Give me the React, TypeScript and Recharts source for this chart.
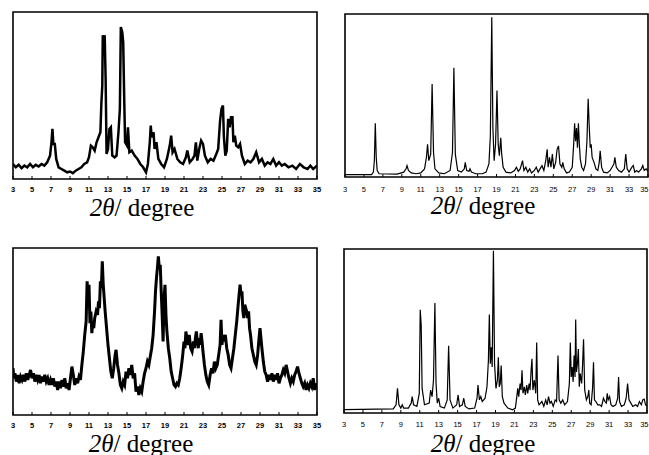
import { LineChart, Line, XAxis, YAxis, ReferenceArea } from "recharts";

// 2-theta tick labels shared by all four patterns
const angleTicks = [3, 5, 7, 9, 11, 13, 15, 17, 19, 21, 23, 25, 27, 29, 31, 33, 35];

// [2θ, relative intensity 0..100]
const patternA: [number, number][] = [
  [3.0, 9], [3.3, 7], [3.6, 8.5], [3.9, 6.5], [4.2, 8], [4.5, 7], [4.8, 9], [5.1, 7], [5.4, 8.5],
  [5.7, 7.5], [6.0, 9], [6.3, 8], [6.6, 10], [6.9, 14], [7.05, 22], [7.15, 30], [7.25, 21], [7.4, 21],
  [7.55, 12], [7.8, 7], [8.1, 6], [8.4, 5], [8.7, 4], [9.0, 4.5], [9.3, 3.5], [9.6, 5], [9.9, 6],
  [10.2, 7], [10.5, 9], [10.8, 10], [11.0, 13], [11.2, 20], [11.4, 19], [11.6, 17], [11.8, 22],
  [12.0, 25], [12.2, 28], [12.3, 45], [12.4, 56], [12.45, 86], [12.55, 84], [12.65, 86], [12.75, 60],
  [12.85, 15], [13.0, 18], [13.15, 30], [13.3, 31], [13.45, 14], [13.7, 13], [13.9, 14], [14.1, 28],
  [14.25, 42], [14.35, 91], [14.5, 88], [14.6, 82], [14.7, 50], [14.8, 22], [15.0, 20], [15.1, 31],
  [15.25, 16], [15.5, 17], [15.8, 14], [16.1, 12], [16.4, 9], [16.7, 7], [17.0, 4], [17.2, 9],
  [17.4, 22], [17.5, 32], [17.6, 25], [17.8, 28], [17.9, 18], [18.1, 22], [18.3, 12], [18.6, 9],
  [18.9, 7], [19.2, 12], [19.5, 20], [19.65, 26], [19.8, 16], [20.0, 18], [20.3, 12], [20.6, 10],
  [20.9, 9], [21.2, 13], [21.35, 17], [21.6, 10], [21.9, 12], [22.1, 14], [22.25, 22], [22.4, 11],
  [22.6, 18], [22.8, 23], [23.0, 21], [23.2, 14], [23.5, 10], [23.8, 12], [24.1, 11], [24.4, 15],
  [24.6, 18], [24.8, 35], [24.95, 42], [25.1, 44], [25.2, 25], [25.35, 14], [25.5, 17], [25.65, 36],
  [25.8, 31], [25.95, 37], [26.1, 37], [26.2, 22], [26.35, 26], [26.5, 20], [26.7, 19], [26.9, 21],
  [27.1, 14], [27.4, 9], [27.7, 11], [28.0, 10], [28.3, 12], [28.6, 16], [28.9, 10], [29.2, 12],
  [29.5, 8], [29.8, 10], [30.1, 9], [30.4, 12], [30.7, 8], [31.0, 10], [31.3, 8], [31.6, 9], [32.0, 7],
  [32.4, 8], [32.8, 6], [33.2, 9], [33.6, 7], [34.0, 6], [34.3, 8], [34.6, 6], [35.0, 8],
];

const patternB: [number, number][] = [
  [3.0, 1.5], [5.8, 1.5], [6.0, 3], [6.1, 10], [6.2, 33], [6.3, 12], [6.4, 4], [6.6, 2], [8.5, 1.8],
  [9.2, 3], [9.45, 5], [9.55, 7], [9.7, 4], [10.0, 2.5], [10.5, 2], [11.0, 2.5], [11.4, 5], [11.6, 12],
  [11.72, 20], [11.85, 10], [12.05, 14], [12.2, 57], [12.35, 15], [12.5, 5], [12.9, 2.5], [13.5, 2],
  [14.1, 4], [14.35, 15], [14.5, 67], [14.65, 14], [14.9, 4], [15.3, 3], [15.6, 5], [15.7, 9],
  [15.85, 4], [16.1, 3.5], [16.2, 5], [16.35, 3], [16.8, 2], [17.5, 2], [17.9, 3], [18.2, 8],
  [18.35, 25], [18.5, 98], [18.62, 30], [18.75, 10], [18.9, 20], [19.05, 53], [19.18, 20], [19.3, 13],
  [19.45, 24], [19.55, 14], [19.7, 6], [20.0, 3], [20.5, 2.5], [20.9, 4], [21.1, 6], [21.3, 3.5],
  [21.5, 5], [21.75, 10], [21.9, 4], [22.1, 6], [22.3, 3], [22.5, 5], [22.7, 2.5], [23.0, 4], [23.2, 6],
  [23.4, 3], [23.6, 5], [23.8, 7], [24.0, 4], [24.2, 10], [24.35, 17], [24.45, 6], [24.6, 12],
  [24.75, 6], [24.9, 14], [25.05, 5], [25.25, 9], [25.4, 17], [25.55, 19], [25.7, 8], [25.9, 6],
  [26.0, 9], [26.15, 5], [26.4, 2.5], [26.7, 3], [27.0, 6], [27.15, 20], [27.25, 33], [27.35, 22],
  [27.45, 30], [27.55, 18], [27.65, 33], [27.75, 20], [27.85, 11], [28.0, 6], [28.2, 4], [28.4, 8],
  [28.55, 22], [28.68, 48], [28.8, 30], [28.9, 18], [29.0, 20], [29.1, 12], [29.3, 9], [29.5, 5],
  [29.7, 4], [29.85, 9], [29.95, 16], [30.1, 6], [30.3, 3], [30.7, 2.5], [31.0, 4], [31.2, 6],
  [31.4, 8], [31.5, 12], [31.65, 6], [31.9, 4], [32.2, 3], [32.5, 5], [32.65, 14], [32.8, 5],
  [33.0, 3], [33.3, 6], [33.45, 7], [33.6, 3], [33.8, 4], [34.0, 3], [34.3, 5], [34.45, 7], [34.6, 4],
  [34.8, 5], [35.0, 3.5],
];

const patternC: [number, number][] = [
  [3.0, 28], [3.1, 22], [3.2, 25], [3.35, 20], [3.5, 24], [3.65, 19], [3.8, 23], [3.95, 21], [4.1, 24],
  [4.25, 20], [4.4, 25], [4.55, 21], [4.7, 24], [4.85, 27], [5.0, 22], [5.15, 25], [5.3, 20],
  [5.45, 24], [5.6, 21], [5.75, 24], [5.9, 19], [6.05, 23], [6.2, 20], [6.35, 24], [6.5, 20],
  [6.65, 22], [6.8, 18], [6.95, 21], [7.1, 18], [7.25, 22], [7.4, 17], [7.55, 20], [7.7, 15],
  [7.85, 20], [8.0, 16], [8.15, 21], [8.3, 17], [8.45, 22], [8.6, 16], [8.75, 19], [8.9, 15],
  [9.05, 22], [9.2, 29], [9.35, 24], [9.5, 18], [9.65, 22], [9.8, 19], [9.95, 23], [10.1, 21],
  [10.25, 30], [10.4, 38], [10.55, 48], [10.7, 56], [10.8, 80], [10.9, 72], [11.0, 78], [11.1, 55],
  [11.2, 62], [11.3, 49], [11.4, 55], [11.5, 52], [11.6, 58], [11.75, 62], [11.9, 60], [12.0, 68],
  [12.1, 64], [12.2, 80], [12.3, 76], [12.4, 92], [12.5, 78], [12.6, 70], [12.7, 62], [12.85, 52],
  [13.0, 42], [13.15, 34], [13.3, 26], [13.45, 22], [13.6, 28], [13.75, 36], [13.85, 39], [14.0, 30],
  [14.15, 25], [14.3, 18], [14.45, 16], [14.6, 20], [14.75, 18], [14.9, 26], [15.05, 22], [15.2, 28],
  [15.35, 24], [15.5, 30], [15.65, 22], [15.8, 25], [15.95, 14], [16.1, 17], [16.25, 12], [16.4, 16],
  [16.55, 14], [16.7, 20], [16.85, 25], [17.0, 28], [17.15, 32], [17.3, 30], [17.45, 35], [17.6, 40],
  [17.75, 48], [17.9, 62], [18.0, 74], [18.1, 82], [18.2, 88], [18.3, 95], [18.4, 88], [18.5, 90],
  [18.6, 74], [18.7, 60], [18.8, 44], [18.9, 70], [19.0, 78], [19.1, 60], [19.2, 50], [19.35, 40],
  [19.5, 34], [19.65, 26], [19.8, 22], [19.95, 18], [20.1, 17], [20.25, 19], [20.4, 18], [20.55, 22],
  [20.7, 28], [20.85, 35], [21.0, 44], [21.1, 40], [21.2, 50], [21.3, 46], [21.45, 42], [21.55, 48],
  [21.7, 40], [21.85, 38], [22.0, 44], [22.1, 40], [22.2, 46], [22.3, 50], [22.4, 44], [22.5, 40],
  [22.6, 46], [22.7, 42], [22.8, 49], [22.9, 44], [23.0, 38], [23.15, 30], [23.3, 24], [23.45, 20],
  [23.6, 18], [23.75, 24], [23.9, 28], [24.05, 25], [24.2, 32], [24.35, 28], [24.5, 30], [24.65, 36],
  [24.8, 42], [24.9, 57], [25.0, 42], [25.1, 48], [25.2, 44], [25.35, 48], [25.5, 40], [25.65, 36],
  [25.8, 30], [25.95, 28], [26.1, 34], [26.25, 40], [26.4, 48], [26.55, 56], [26.7, 66], [26.8, 72],
  [26.9, 78], [27.0, 72], [27.1, 74], [27.2, 62], [27.3, 58], [27.4, 66], [27.5, 64], [27.6, 62],
  [27.7, 58], [27.8, 62], [27.9, 52], [28.0, 48], [28.15, 40], [28.3, 36], [28.45, 32], [28.6, 30],
  [28.75, 36], [28.9, 46], [29.0, 52], [29.1, 46], [29.2, 40], [29.35, 32], [29.5, 26], [29.65, 24],
  [29.8, 20], [29.95, 24], [30.1, 21], [30.25, 25], [30.4, 20], [30.55, 24], [30.7, 21], [30.85, 25],
  [31.0, 19], [31.15, 22], [31.3, 24], [31.45, 27], [31.6, 25], [31.75, 30], [31.9, 26], [32.05, 22],
  [32.2, 19], [32.35, 22], [32.5, 20], [32.65, 24], [32.8, 26], [32.95, 29], [33.1, 25], [33.25, 22],
  [33.4, 19], [33.55, 17], [33.7, 19], [33.85, 15], [34.0, 18], [34.15, 16], [34.3, 19], [34.45, 17],
  [34.6, 22], [34.75, 15], [34.9, 19], [35.0, 16],
];

const patternD: [number, number][] = [
  [3.0, 2], [8.2, 2.5], [8.5, 5], [8.65, 15], [8.8, 5], [9.0, 3], [9.15, 5], [9.3, 3], [9.8, 3],
  [10.1, 6], [10.2, 10], [10.35, 5], [10.7, 4], [10.95, 12], [11.05, 63], [11.15, 54], [11.25, 15],
  [11.5, 5], [12.0, 6], [12.15, 14], [12.3, 10], [12.45, 20], [12.6, 67], [12.72, 18], [12.85, 6],
  [13.0, 9], [13.15, 4], [13.6, 3], [13.9, 8], [14.05, 41], [14.2, 8], [14.5, 3], [14.9, 5],
  [15.05, 11], [15.2, 4], [15.5, 5], [15.65, 9], [15.8, 4], [16.2, 2.5], [16.8, 3], [17.05, 9],
  [17.15, 17], [17.3, 8], [17.45, 10], [17.6, 7], [17.9, 9], [18.1, 16], [18.25, 32], [18.35, 60],
  [18.45, 30], [18.55, 40], [18.65, 28], [18.78, 99], [18.9, 30], [19.05, 15], [19.2, 20], [19.3, 34],
  [19.4, 16], [19.5, 18], [19.6, 29], [19.72, 10], [19.9, 6], [20.3, 3], [20.8, 2], [21.1, 3],
  [21.25, 10], [21.35, 15], [21.45, 10], [21.6, 18], [21.7, 14], [21.8, 26], [21.9, 12], [22.05, 16],
  [22.15, 11], [22.3, 17], [22.4, 12], [22.55, 18], [22.65, 14], [22.75, 25], [22.85, 33], [22.95, 14],
  [23.1, 20], [23.25, 12], [23.35, 43], [23.45, 8], [23.6, 5], [23.9, 7], [24.1, 4], [24.3, 8],
  [24.45, 5], [24.6, 10], [24.75, 6], [24.9, 7], [25.1, 4], [25.3, 8], [25.45, 7], [25.6, 35],
  [25.72, 8], [25.9, 6], [26.1, 8], [26.3, 5], [26.6, 7], [26.8, 18], [26.9, 43], [27.0, 22],
  [27.1, 28], [27.2, 19], [27.3, 35], [27.4, 22], [27.47, 57], [27.55, 25], [27.65, 30], [27.75, 39],
  [27.85, 16], [27.95, 24], [28.1, 18], [28.2, 30], [28.3, 45], [28.42, 14], [28.6, 8], [28.75, 10],
  [28.85, 14], [28.95, 6], [29.1, 5], [29.25, 15], [29.35, 31], [29.45, 8], [29.6, 7], [29.8, 5],
  [30.0, 5], [30.2, 4], [30.4, 9], [30.55, 7], [30.7, 6], [30.8, 12], [30.9, 8], [31.05, 10],
  [31.2, 5], [31.4, 4], [31.7, 5], [31.9, 9], [32.0, 22], [32.1, 7], [32.3, 4], [32.6, 5], [32.8, 9],
  [32.95, 18], [33.1, 8], [33.3, 6], [33.5, 4], [33.8, 5], [34.0, 4], [34.2, 7], [34.4, 5], [34.55, 8],
  [34.7, 8.5], [34.85, 5], [35.0, 4],
];

const CHART_HEIGHT = 225;

// tick label that slides left instead of running off the right edge of the page
const AngleTick = (props: any) => {
  const { x, y, payload, chartWidth, bold } = props;
  const label = String(payload.value);
  const half = label.length * 2.1;
  const clamp = x + half > chartWidth - 0.5;
  return (
    <text
      x={clamp ? chartWidth - 0.5 : x}
      y={y}
      dy="0.71em"
      textAnchor={clamp ? "end" : "middle"}
      fill="#000"
      fontSize={7.5}
      fontWeight={bold ? "bold" : "normal"}
      fontFamily="Liberation Sans, Arial, sans-serif"
    >
      {label}
    </text>
  );
};

interface PanelProps {
  data: [number, number][];
  left: number;
  top: number;
  width: number;
  plotTop: number;
  plotBottom: number;
  plotLeft: number;
  plotRight: number;
  labelTop: number;
  lineWidth: number;
  boldTicks?: boolean;
}

const Panel = ({ data, left, top, width, plotTop, plotBottom, plotLeft, plotRight, labelTop, lineWidth, boldTicks }: PanelProps) => {
  const rows = data.map(([angle, intensity]) => ({ angle, intensity }));
  const axisHeight = 20;
  const margin = {
    top: plotTop,
    left: plotLeft,
    right: width - plotRight,
    bottom: CHART_HEIGHT - plotBottom - axisHeight,
  };
  return (
    <div style={{ position: "absolute", left, top }}>
      <LineChart width={width} height={CHART_HEIGHT} data={rows} margin={margin}>
        <XAxis
          type="number"
          dataKey="angle"
          domain={[3, 35]}
          ticks={angleTicks}
          interval={0}
          allowDataOverflow
          axisLine={false}
          tickSize={-3}
          tickMargin={labelTop - plotBottom + 3}
          tickLine={{ stroke: "#000" }}
          height={axisHeight}
          tick={<AngleTick chartWidth={width} bold={boldTicks} />}
        />
        <YAxis hide domain={[0, 100]} allowDataOverflow />
        <ReferenceArea x1={3} x2={35} y1={0} y2={100} fill="none" stroke="#000" strokeWidth={1.6} />
        <Line
          type="linear"
          dataKey="intensity"
          stroke="#000"
          strokeWidth={lineWidth}
          dot={false}
          isAnimationActive={false}
        />
      </LineChart>
    </div>
  );
};

const Title = ({ cx, baseline }: { cx: number; baseline: number }) => (
  <div
    style={{
      position: "absolute",
      left: cx - 100,
      top: baseline - 22,
      width: 200,
      textAlign: "center",
      fontFamily: "Liberation Serif, Times New Roman, serif",
      fontSize: 25,
      lineHeight: "normal",
      color: "#000",
      whiteSpace: "nowrap",
    }}
  >
    <i>2θ</i>/ degree
  </div>
);

export default function App() {
  return (
    <div
      style={{
        position: "absolute",
        left: 0,
        top: 0,
        width: 649,
        height: 455,
        overflow: "hidden",
        background: "#fff",
      }}
    >
      <Panel data={patternA} left={0} top={0} width={330}
        plotTop={12} plotBottom={179} plotLeft={13} plotRight={317} labelTop={187} lineWidth={2.5} boldTicks />
      <Panel data={patternB} left={320} top={0} width={329}
        plotTop={14} plotBottom={177} plotLeft={25} plotRight={328} labelTop={187} lineWidth={1.2} />
      <Panel data={patternC} left={0} top={230} width={330}
        plotTop={18} plotBottom={185} plotLeft={13} plotRight={317} labelTop={193} lineWidth={3} boldTicks />
      <Panel data={patternD} left={320} top={230} width={329}
        plotTop={19} plotBottom={183} plotLeft={24} plotRight={327} labelTop={192} lineWidth={1.2} />
      <Title cx={142} baseline={216} />
      <Title cx={483} baseline={214} />
      <Title cx={141} baseline={452} />
      <Title cx={483} baseline={452} />
    </div>
  );
}
